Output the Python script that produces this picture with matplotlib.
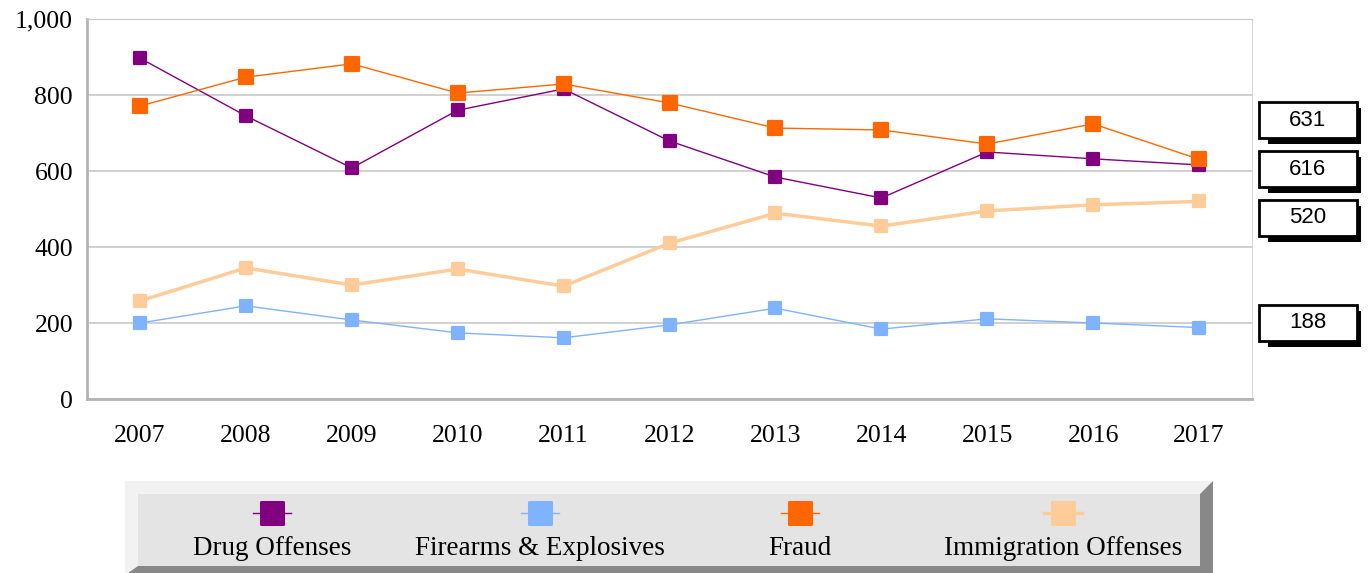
import matplotlib
matplotlib.use("Agg")
import matplotlib.pyplot as plt
from matplotlib.patches import Rectangle, Polygon
from matplotlib.lines import Line2D
from matplotlib.markers import MarkerStyle

years = ["2007", "2008", "2009", "2010", "2011", "2012", "2013", "2014", "2015", "2016", "2017"]
drug = [897, 745, 608, 760, 816, 679, 584, 529, 650, 632, 616]
firearms = [200, 245, 208, 174, 161, 195, 239, 184, 211, 200, 188]
fraud = [771, 847, 882, 805, 829, 779, 713, 708, 671, 724, 631]
immigration = [258, 345, 300, 342, 297, 410, 489, 455, 495, 511, 520]

names = ["Drug Offenses", "Firearms & Explosives", "Fraud", "Immigration Offenses"]
series = [drug, firearms, fraud, immigration]
colors = ["#800080", "#7FB2FF", "#FF6600", "#FFCC99"]
widths = [1.0, 1.0, 1.0, 2.5]
msizes = [8.2, 8.2, 9.8, 8.8]

# end labels (value text, box centre in pixels from top)
end_labels = [("631", 120), ("616", 169), ("520", 218), ("188", 323)]

W, H = 1369, 573
fig = plt.figure(figsize=(W / 100, H / 100), dpi=100)
serif = ["Liberation Serif", "DejaVu Serif"]
rsq = MarkerStyle("s", joinstyle="round")


def fx(x):
    return x / W


def fy(y):
    return 1 - y / H


ax = fig.add_axes([fx(87), fy(399), fx(1252) - fx(87), fy(19) - fy(399)])
xs = list(range(len(years)))
for vals, c, lw, ms in zip(series, colors, widths, msizes):
    ax.plot(xs, vals, color=c, lw=lw, marker=rsq, ms=ms, mec=c, mew=1.6,
            solid_joinstyle="round", zorder=3)

ax.set_xlim(-0.5, len(years) - 0.5)
ax.set_ylim(0, 1000)
ax.set_yticks(range(0, 1001, 200))
ax.set_yticklabels([f"{v:,}" for v in range(0, 1001, 200)])
ax.set_xticks(xs)
ax.set_xticklabels(years)
ax.grid(axis="y", color="#c8c8c8", lw=1.2)
ax.set_axisbelow(True)
ax.tick_params(length=0, labelsize=18.5)
ax.tick_params(axis="y", pad=10)
ax.tick_params(axis="x", pad=19)
for lab in ax.get_xticklabels() + ax.get_yticklabels():
    lab.set_family(serif)
ax.spines["left"].set_color("#b4b4b4")
ax.spines["left"].set_linewidth(2)
ax.spines["bottom"].set_color("#b4b4b4")
ax.spines["bottom"].set_linewidth(2)
ax.spines["top"].set_color("#c8c8c8")
ax.spines["right"].set_color("#d8d8d8")

# end value boxes
for txt, yc in end_labels:
    fig.add_artist(Rectangle((fx(1268), fy(yc + 24)), fx(93), fy(0) - fy(36),
                             facecolor="black", edgecolor="none"))
    fig.add_artist(Rectangle((fx(1259), fy(yc + 18)), fx(98), fy(0) - fy(36),
                             facecolor="white", edgecolor="black", lw=2))
    fig.text(fx(1308), fy(yc), txt, ha="center", va="center", fontsize=16,
             family=["Liberation Sans", "DejaVu Sans"])

# legend panel with bevel
fig.add_artist(Rectangle((fx(125), fy(573)), fx(1213 - 125), fy(481) - fy(573),
                         facecolor="#f2f2f2", edgecolor="none"))
fig.add_artist(Polygon([(fx(1213), fy(481)), (fx(1213), fy(573)), (fx(128), fy(573)),
                        (fx(138), fy(566)), (fx(1200), fy(566)), (fx(1200), fy(494))],
                       closed=True, facecolor="#888888", edgecolor="none"))
fig.add_artist(Rectangle((fx(138), fy(566)), fx(1200 - 138), fy(494) - fy(566),
                         facecolor="#e4e4e4", edgecolor="none"))

leg_x = [272, 540, 800, 1063]
for name, c, lw, ms, x in zip(names, colors, widths, msizes, leg_x):
    fig.add_artist(Line2D([fx(x - 19), fx(x + 19)], [fy(513), fy(513)], color=c, lw=lw))
    fig.add_artist(Line2D([fx(x)], [fy(513)], color=c, marker=rsq, ms=15.5, mec=c, mew=2.2))
    fig.text(fx(x), fy(555), name, ha="center", va="baseline", fontsize=19.5, family=serif)

fig.savefig("out.png", dpi=100)
